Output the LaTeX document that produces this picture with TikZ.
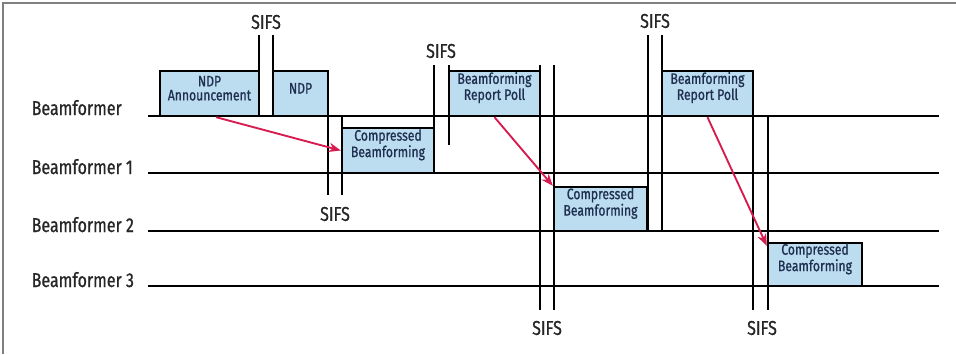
\documentclass[tikz,border=0pt]{standalone}
\usepackage{fontspec}
\setmainfont{Fira Sans}[FakeStretch=0.8, FakeBold=0.8]
\usetikzlibrary{fit,arrows.meta}

\definecolor{pktblue}{HTML}{BCDCF0}
\definecolor{pktnavy}{HTML}{1F2F50}
\definecolor{pollred}{HTML}{D81B4F}

\tikzset{
  wire/.style={line width=1.8pt, black},
  pkt/.style={draw=black, line width=1.8pt, fill=pktblue, inner sep=0pt,
    align=center, text=pktnavy, font=\fontsize{11.4}{10.5}\selectfont},
  lane/.style={anchor=base west, font=\fontsize{15}{15}\selectfont, text=black!85},
  sifs/.style={font=\fontsize{15}{15}\selectfont, text=black!85},
  poll/.style={pollred, line width=1.4pt, -{Stealth[length=9pt,width=7pt]}}
}

\begin{document}
\begin{tikzpicture}[x=0.75pt, y=-0.75pt]
  \useasboundingbox (0,0) rectangle (956,354);
  \fill[white] (0,0) rectangle (956,354);
  \draw[gray, line width=1pt] (956,3) -- (3,3) -- (3,354);

  % timelines
  \coordinate (L0a) at (148,116); \coordinate (L0b) at (939,116);
  \coordinate (L1a) at (148,173); \coordinate (L1b) at (939,173);
  \coordinate (L2a) at (148,231); \coordinate (L2b) at (939,231);
  \coordinate (L3a) at (148,286); \coordinate (L3b) at (939,286);
  \draw[wire] (L0a) -- (L0b);
  \draw[wire] (L1a) -- (L1b);
  \draw[wire] (L2a) -- (L2b);
  \draw[wire] (L3a) -- (L3b);

  \node[lane] (bf0) at (27,115) {Beamformer};
  \node[lane] (bf1) at (27,174) {Beamformer 1};
  \node[lane] (bf2) at (27,232) {Beamformer 2};
  \node[lane] (bf3) at (27,287) {Beamformer 3};

  % frames
  \node[pkt, fit={(160,71) (259,116)}] (ndpa) {NDP\\Announcement};
  \node[pkt, fit={(273,71) (328,116)}] (ndp) {NDP};
  \node[pkt, fit={(342,128) (434,173)}] (cb1) {Compressed\\Beamforming};
  \node[pkt, fit={(449,71) (540,116)}] (brp1) {Beamforming\\Report Poll};
  \node[pkt, fit={(554,187) (647,231)}] (cb2) {Compressed\\Beamforming};
  \node[pkt, fit={(662,71) (753,116)}] (brp2) {Beamforming\\Report Poll};
  \node[pkt, fit={(768,243) (862,286)}] (cb3) {Compressed\\Beamforming};

  % SIFS gaps
  \draw[wire] (259,35) -- (259,116);
  \draw[wire] (273,35) -- (273,116);
  \draw[wire] (328,71) -- (328,195);
  \draw[wire] (342,116) -- (342,195);
  \draw[wire] (434,65) -- (434,173);
  \draw[wire] (449,65) -- (449,145);
  \draw[wire] (540,65) -- (540,310);
  \draw[wire] (554,65) -- (554,310);
  \draw[wire] (648,35) -- (648,231);
  \draw[wire] (662,35) -- (662,231);
  \draw[wire] (753,71) -- (753,310);
  \draw[wire] (768,116) -- (768,310);

  \node[sifs] (s1) at (266,22) {SIFS};
  \node[sifs] (s2) at (335,214) {SIFS};
  \node[sifs] (s3) at (441,51) {SIFS};
  \node[sifs] (s4) at (547,328) {SIFS};
  \node[sifs] (s5) at (655,21) {SIFS};
  \node[sifs] (s6) at (762,328) {SIFS};

  \draw[poll] ([xshift=5pt]ndpa.south) -- (cb1.west);
  \draw[poll] (brp1.south) -- (cb2.north west);
  \draw[poll] (brp2.south) -- ([yshift=-3pt]cb3.north west);
\end{tikzpicture}
\end{document}
